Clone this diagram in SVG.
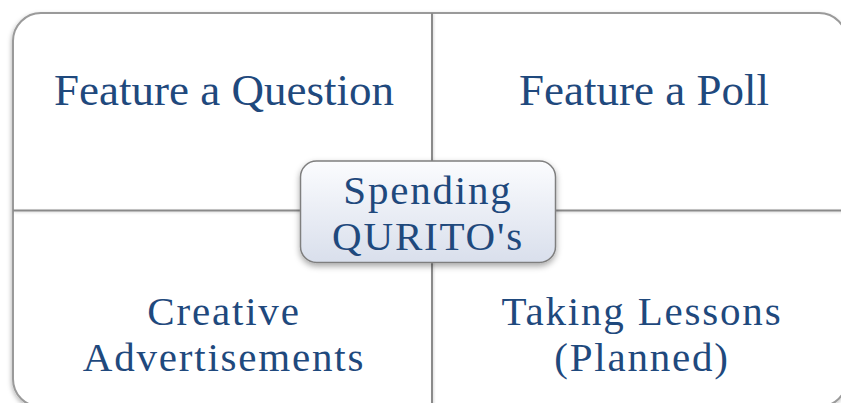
<svg xmlns="http://www.w3.org/2000/svg" width="841" height="403" viewBox="0 0 841 403">
  <defs>
    <linearGradient id="centerFill" x1="0" y1="0" x2="0" y2="1">
      <stop offset="0" stop-color="#fbfcfe"/>
      <stop offset="1" stop-color="#d9dfec"/>
    </linearGradient>
    <filter id="outerShadow" x="-5%" y="-5%" width="110%" height="115%">
      <feDropShadow dx="-1" dy="2" stdDeviation="2" flood-color="#000" flood-opacity="0.25"/>
    </filter>
    <filter id="boxShadow" x="-10%" y="-10%" width="120%" height="130%">
      <feDropShadow dx="0" dy="3" stdDeviation="3" flood-color="#000" flood-opacity="0.35"/>
    </filter>
    <filter id="lineShadow" x="-5%" y="-5%" width="110%" height="110%">
      <feDropShadow dx="1" dy="1" stdDeviation="1" flood-color="#000" flood-opacity="0.15"/>
    </filter>
  </defs>
  <style>
    .label { font-family: "Liberation Serif", "Times New Roman", serif; font-size: 45px; fill: #1F497D; text-anchor: middle; }
    .two { font-size: 41px; letter-spacing: 1.8px; }
    .divider { stroke: #8a8a8a; stroke-width: 2; fill: none; }
  </style>
  <rect width="841" height="403" fill="#ffffff"/>
  <g id="frame">
    <rect x="13" y="13" width="834" height="394" rx="28" ry="28" fill="#ffffff" stroke="#9a9a9a" stroke-width="2" filter="url(#outerShadow)"/>
  </g>
  <g id="connectors" filter="url(#lineShadow)">
    <line class="divider" x1="432" y1="13" x2="432" y2="405"/>
    <line class="divider" x1="13" y1="210.5" x2="847" y2="210.5"/>
  </g>
  <g id="node-feature-question">
    <text class="label" x="224" y="105">Feature a Question</text>
  </g>
  <g id="node-feature-poll">
    <text class="label" x="644" y="105">Feature a Poll</text>
  </g>
  <g id="node-creative-ads">
    <text class="label two" x="224" y="325">Creative<tspan x="224" dy="45.5">Advertisements</tspan></text>
  </g>
  <g id="node-taking-lessons">
    <text class="label two" x="642" y="325">Taking Lessons<tspan x="642" dy="45.5">(Planned)</tspan></text>
  </g>
  <g id="node-center">
    <rect x="300.5" y="161" width="255" height="101.5" rx="16" ry="16" fill="url(#centerFill)" stroke="#7f7f7f" stroke-width="1.5" filter="url(#boxShadow)"/>
    <text class="label two" x="428" y="204">Spending<tspan x="428" dy="45.5">QURITO's</tspan></text>
  </g>
</svg>
